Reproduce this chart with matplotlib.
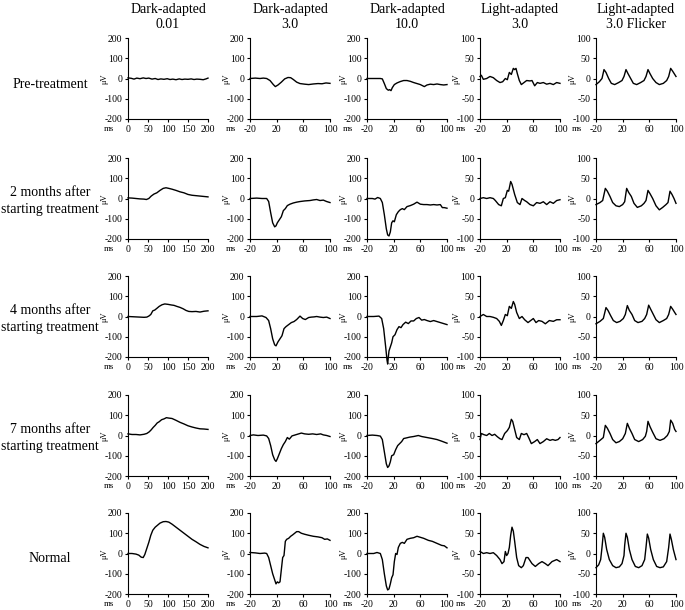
import matplotlib
matplotlib.use("Agg")
import matplotlib.pyplot as plt

plt.rcParams['font.family'] = ['Liberation Serif', 'DejaVu Serif']
plt.rcParams['axes.unicode_minus'] = False

# column / row headings
col_titles = ["Dark-adapted\n0.01", "Dark-adapted\n3.0", "Dark-adapted\n10.0",
              "Light-adapted\n3.0", "Light-adapted\n3.0 Flicker"]
row_titles = ["Pre-treatment", "2 months after\nstarting treatment",
              "4 months after\nstarting treatment", "7 months after\nstarting treatment",
              "Normal"]

# axis settings per column
col_xlim = [(0, 200), (-20, 100), (-20, 100), (-20, 100), (-20, 100)]
col_xticks = [[0, 50, 100, 150, 200], [-20, 20, 60, 100], [-20, 20, 60, 100],
              [-20, 20, 60, 100], [-20, 20, 60, 100]]
col_ylim = [200, 200, 200, 100, 100]
col_yticks = [[-200, -100, 0, 100, 200]] * 3 + [[-100, -50, 0, 50, 100]] * 2

# ---- Pre-treatment ----
pre_da001_ms = [0, 8, 15, 22, 30, 38, 45, 52, 60, 68, 75, 82, 90, 98, 105, 112, 120, 128, 135, 142, 150, 158, 165, 172, 180, 188, 195, 200]
pre_da001_uv = [3, 1, -3, 2, -1, 3, 0, 2, -3, 0, -5, -2, -4, -1, -5, -3, -6, -2, -5, -3, -4, -2, -5, -3, -4, -6, -2, 2]
pre_da3_ms = [-20, -12, -5, 0, 5, 10, 15, 18, 22, 27, 32, 37, 41, 45, 50, 55, 62, 68, 75, 82, 88, 94, 100]
pre_da3_uv = [0, 2, 0, 2, 0, -10, -30, -40, -32, -18, -2, 5, 4, -5, -18, -25, -28, -30, -27, -25, -26, -22, -24]
pre_da10_ms = [-20, -10, 0, 3, 6, 9, 12, 14, 16, 18, 21, 25, 30, 35, 40, 45, 50, 55, 60, 63, 66, 70, 75, 80, 85, 90, 95, 100]
pre_da10_uv = [0, 0, 0, -2, -25, -50, -58, -55, -60, -45, -30, -22, -15, -10, -10, -14, -20, -25, -30, -35, -40, -32, -28, -30, -27, -30, -32, -30]
pre_la3_ms = [-20, -18, -15, -10, -5, 0, 5, 10, 14, 18, 21, 24, 27, 30, 32, 34, 36, 39, 42, 46, 50, 55, 58, 62, 66, 70, 75, 80, 85, 90, 95, 100]
pre_la3_uv = [5, 8, -2, 0, 5, 2, -5, -10, -8, 0, -3, 15, 10, 25, 22, 25, 12, -5, -15, -10, -5, -6, -5, -18, -10, -12, -10, -14, -12, -15, -10, -12]
pre_flk_ms = [-20, -15, -11, -8, -5, -1, 3, 8, 14, 19, 22, 25, 28, 32, 36, 41, 47, 52, 55, 58, 61, 65, 70, 75, 81, 86, 89, 92, 95, 100]
pre_flk_uv = [-15, -8, 0, 22, 15, 0, -12, -15, -10, -5, 5, 22, 12, 0, -12, -15, -10, -5, 5, 22, 12, 0, -10, -15, -12, -5, 5, 25, 18, 5]

# ---- 2 months ----
m2_da001_ms = [0, 10, 20, 30, 40, 46, 52, 58, 65, 72, 80, 88, 95, 102, 110, 120, 130, 140, 150, 160, 170, 180, 190, 200]
m2_da001_uv = [3, 2, 0, -2, -3, -5, 0, 12, 22, 28, 40, 50, 53, 50, 46, 40, 33, 28, 20, 16, 14, 12, 10, 8]
m2_da3_ms = [-20, -10, -2, 5, 8, 11, 14, 17, 19, 21, 24, 27, 30, 33, 36, 40, 45, 50, 55, 62, 70, 75, 80, 85, 90, 95, 100]
m2_da3_uv = [0, 2, 0, 0, -15, -70, -120, -140, -135, -120, -105, -90, -60, -50, -35, -28, -22, -18, -15, -12, -10, -7, -5, -10, -8, -15, -20]
m2_da10_ms = [-20, -12, -8, -4, 0, 3, 6, 9, 11, 13, 15, 17, 19, 21, 24, 27, 30, 33, 36, 40, 45, 50, 55, 60, 65, 70, 75, 80, 85, 90, 93, 96, 100]
m2_da10_uv = [0, 0, -3, 5, 0, -20, -80, -150, -180, -185, -165, -120, -110, -115, -80, -65, -55, -50, -55, -40, -35, -28, -18, -28, -30, -30, -32, -30, -32, -30, -45, -45, -48]
m2_la3_ms = [-20, -15, -10, -5, 0, 3, 8, 12, 15, 18, 21, 23, 26, 28, 32, 36, 40, 43, 47, 50, 55, 60, 65, 70, 75, 80, 85, 90, 95, 100]
m2_la3_uv = [0, 2, 0, 2, 0, -5, -15, -18, 0, 2, 20, 18, 42, 35, 10, -10, -15, 0, -5, -8, -15, -18, -10, -12, -8, -15, -8, -12, -5, -3]
m2_flk_ms = [-20, -14, -10, -6, -3, 1, 5, 10, 15, 20, 23, 26, 29, 33, 37, 42, 48, 52, 55, 58, 61, 65, 70, 75, 80, 85, 88, 91, 94, 97, 100]
m2_flk_uv = [-15, -10, -5, 25, 18, 5, -10, -18, -20, -15, -8, 25, 15, 5, -12, -22, -18, -12, -5, 20, 12, 0, -18, -28, -22, -15, -10, 18, 10, 0, -12]

# ---- 4 months ----
m4_da001_ms = [0, 10, 20, 30, 40, 47, 52, 57, 62, 67, 72, 78, 85, 92, 100, 108, 115, 122, 130, 138, 145, 152, 160, 170, 180, 190, 200]
m4_da001_uv = [0, -1, -2, -3, -4, -3, 2, 10, 28, 32, 40, 50, 58, 62, 60, 57, 55, 50, 45, 38, 30, 25, 24, 25, 22, 26, 28]
m4_da3_ms = [-20, -10, -2, 4, 8, 11, 14, 17, 19, 22, 25, 28, 31, 34, 38, 42, 46, 50, 55, 59, 63, 68, 72, 76, 80, 85, 90, 95, 100]
m4_da3_uv = [0, 0, 3, -5, -20, -60, -110, -140, -145, -125, -110, -95, -60, -50, -40, -30, -25, -15, 2, -10, -15, -5, -3, -2, 0, -3, -5, -3, -10]
m4_da10_ms = [-20, -10, -2, 2, 5, 8, 10, 11, 12, 13, 15, 17, 19, 22, 25, 28, 31, 34, 38, 42, 46, 50, 54, 58, 62, 66, 70, 75, 80, 85, 90, 95, 100]
m4_da10_uv = [0, 0, 2, -10, -60, -150, -215, -235, -200, -170, -150, -130, -100, -90, -65, -50, -55, -40, -28, -35, -22, -22, -10, -5, -18, -15, -20, -25, -20, -25, -30, -35, -40]
m4_la3_ms = [-20, -15, -10, -5, 0, 5, 9, 12, 15, 18, 21, 24, 27, 30, 32, 35, 39, 43, 47, 52, 56, 60, 64, 68, 73, 78, 84, 90, 95, 100]
m4_la3_uv = [0, 5, 0, 0, -2, -5, -12, -22, -10, 5, 2, 25, 20, 37, 30, 10, -5, 0, -8, -15, -10, -5, -15, -10, -12, -18, -10, -12, -8, -8]
m4_flk_ms = [-20, -14, -9, -5, -2, 2, 6, 11, 16, 21, 24, 27, 30, 34, 38, 43, 49, 53, 56, 59, 62, 66, 70, 75, 81, 86, 89, 92, 95, 98, 100]
m4_flk_uv = [-18, -12, -5, 22, 15, 2, -10, -15, -12, -5, 5, 27, 15, 5, -10, -15, -12, -5, 5, 28, 18, 5, -8, -15, -10, -5, 5, 25, 18, 10, 5]

# ---- 7 months ----
m7_da001_ms = [0, 10, 20, 30, 40, 47, 53, 58, 63, 68, 73, 78, 84, 90, 96, 102, 110, 120, 130, 140, 150, 160, 170, 180, 190, 200]
m7_da001_uv = [8, 5, 5, 3, 6, 10, 18, 28, 40, 50, 62, 68, 78, 82, 88, 86, 84, 75, 65, 57, 48, 42, 37, 33, 32, 30]
m7_da3_ms = [-20, -15, -8, 0, 5, 8, 11, 14, 17, 19, 21, 24, 27, 30, 33, 36, 39, 43, 48, 53, 57, 62, 68, 74, 80, 86, 90, 95, 100]
m7_da3_uv = [0, 3, 0, 2, -2, -15, -50, -95, -120, -128, -115, -90, -65, -45, -30, -10, -18, -2, 3, 8, 12, 8, 6, 8, 5, 8, 3, 0, -5]
m7_da10_ms = [-20, -12, -5, 0, 3, 6, 9, 11, 13, 15, 17, 20, 23, 26, 29, 32, 35, 39, 44, 50, 57, 62, 70, 78, 85, 92, 100]
m7_da10_uv = [0, 2, 0, -3, -20, -80, -140, -158, -150, -130, -100, -95, -70, -50, -40, -30, -15, -12, -8, -5, 0, -5, -10, -15, -20, -28, -38]
m7_la3_ms = [-20, -18, -14, -10, -6, -2, 2, 6, 10, 13, 17, 21, 24, 27, 29, 32, 35, 39, 42, 46, 50, 53, 57, 62, 66, 70, 75, 80, 85, 89, 93, 97, 100]
m7_la3_uv = [-10, 5, 2, 0, 5, 0, 3, -3, -8, -10, 5, 12, 20, 40, 35, 15, -5, -10, 5, 2, 5, -5, -20, -15, -10, -20, -15, -8, -12, -10, -12, -10, -5]
m7_flk_ms = [-20, -14, -9, -6, -3, 1, 5, 10, 15, 20, 24, 27, 30, 34, 38, 44, 50, 54, 56, 58, 61, 65, 70, 76, 82, 87, 90, 92, 95, 98, 100]
m7_flk_uv = [-20, -12, -5, 25, 18, 5, -10, -18, -15, -8, 5, 30, 18, 5, -10, -15, -10, -2, 10, 35, 22, 8, -8, -12, -8, 0, 10, 38, 30, 15, 10]

# ---- Normal ----
nm_da001_ms = [0, 10, 20, 27, 33, 38, 42, 47, 52, 57, 62, 68, 74, 80, 88, 95, 102, 110, 120, 130, 140, 150, 160, 170, 180, 190, 200]
nm_da001_uv = [0, 0, -3, -8, -18, -20, -5, 25, 55, 90, 115, 130, 140, 150, 157, 158, 155, 145, 130, 115, 100, 85, 70, 58, 45, 35, 28]
nm_da3_ms = [-20, -12, -5, 2, 5, 8, 11, 14, 17, 19, 21, 23, 25, 27, 29, 31, 33, 35, 38, 41, 44, 47, 50, 53, 57, 62, 68, 75, 82, 88, 92, 96, 100]
nm_da3_uv = [5, 3, 0, 2, 0, -20, -60, -100, -130, -150, -140, -145, -140, -80, -20, -10, 60, 70, 75, 85, 92, 100, 108, 108, 100, 95, 90, 85, 82, 78, 70, 72, 65]
nm_da10_ms = [-20, -10, -5, 0, 3, 6, 9, 11, 13, 15, 17, 19, 21, 23, 25, 27, 30, 33, 36, 40, 45, 50, 55, 60, 65, 72, 78, 85, 92, 96, 100]
nm_da10_uv = [0, 0, 5, 0, -30, -100, -160, -180, -175, -150, -120, -105, -40, 0, -5, 30, 50, 55, 50, 70, 75, 78, 85, 80, 75, 65, 60, 50, 40, 38, 28]
nm_la3_ms = [-20, -15, -10, -5, 0, 5, 10, 13, 16, 18, 20, 22, 24, 26, 28, 30, 32, 35, 38, 42, 45, 49, 52, 58, 63, 68, 73, 78, 82, 88, 95, 100]
nm_la3_uv = [5, 0, 2, 0, 2, -5, -15, -25, -20, 5, -5, 0, 15, 45, 65, 55, 30, -10, -30, -35, -30, -10, -10, -25, -32, -25, -20, -25, -30, -20, -15, -20]
nm_flk_ms = [-20, -16, -13, -11, -9, -7, -4, 0, 5, 10, 15, 19, 22, 23, 25, 27, 30, 34, 39, 44, 49, 53, 55, 57, 59, 62, 66, 71, 76, 81, 86, 89, 91, 93, 96, 100]
nm_flk_uv = [-35, -28, -15, 15, 50, 40, 10, -15, -30, -35, -33, -25, -5, 20, 50, 40, 10, -15, -32, -35, -30, -15, 15, 48, 38, 10, -15, -32, -35, -33, -20, 15, 48, 35, 10, -15]

traces = [
    [(pre_da001_ms, pre_da001_uv), (pre_da3_ms, pre_da3_uv), (pre_da10_ms, pre_da10_uv), (pre_la3_ms, pre_la3_uv), (pre_flk_ms, pre_flk_uv)],
    [(m2_da001_ms, m2_da001_uv), (m2_da3_ms, m2_da3_uv), (m2_da10_ms, m2_da10_uv), (m2_la3_ms, m2_la3_uv), (m2_flk_ms, m2_flk_uv)],
    [(m4_da001_ms, m4_da001_uv), (m4_da3_ms, m4_da3_uv), (m4_da10_ms, m4_da10_uv), (m4_la3_ms, m4_la3_uv), (m4_flk_ms, m4_flk_uv)],
    [(m7_da001_ms, m7_da001_uv), (m7_da3_ms, m7_da3_uv), (m7_da10_ms, m7_da10_uv), (m7_la3_ms, m7_la3_uv), (m7_flk_ms, m7_flk_uv)],
    [(nm_da001_ms, nm_da001_uv), (nm_da3_ms, nm_da3_uv), (nm_da10_ms, nm_da10_uv), (nm_la3_ms, nm_la3_uv), (nm_flk_ms, nm_flk_uv)],
]

FW, FH = 685, 610
col_left = [128, 250, 367, 480, 596]
row_top = [38, 158, 276, 395, 513]
W, H = 80, 81

fig = plt.figure(figsize=(FW / 100, FH / 100), dpi=100)

for j, t in enumerate(col_titles):
    fig.text((col_left[j] + W / 2) / FW, 1 - 17 / FH, t, ha="center", va="center",
             fontsize=10, linespacing=1.25)

for i, t in enumerate(row_titles):
    off = 43 if "\n" in t else 46
    fig.text(50 / FW, 1 - (row_top[i] + off) / FH, t, ha="center", va="center",
             fontsize=10, linespacing=1.4)

for i in range(5):
    for j in range(5):
        ax = fig.add_axes([col_left[j] / FW, 1 - (row_top[i] + H) / FH, W / FW, H / FH])
        x, y = traces[i][j]
        ax.plot(x, y, color="black", lw=1.0, clip_on=False)
        ax.set_xlim(*col_xlim[j])
        ax.set_ylim(-col_ylim[j], col_ylim[j])
        ax.set_xticks(col_xticks[j])
        ax.set_yticks(col_yticks[j])
        for s in ["top", "right"]:
            ax.spines[s].set_visible(False)
        for s in ["left", "bottom"]:
            ax.spines[s].set_linewidth(0.8)
        ax.tick_params(labelsize=7, length=2, width=0.8, pad=2)
        ax.text(-24 / W, 0.5, "μV", rotation=90, transform=ax.transAxes,
                ha="center", va="center", fontsize=6)
        ax.text(-19 / W, -0.075, "ms", transform=ax.transAxes,
                ha="center", va="top", fontsize=6.5)

fig.savefig("out.png", dpi=100)
